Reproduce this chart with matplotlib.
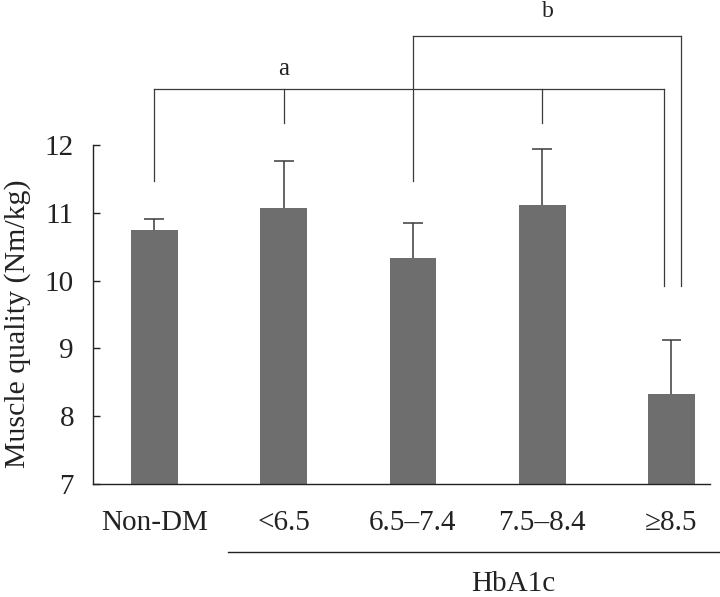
import matplotlib
matplotlib.use("Agg")
import matplotlib.pyplot as plt
import numpy as np

plt.rcParams['font.family'] = ['Liberation Serif', 'DejaVu Serif']

categories = ["Non-DM", "<6.5", "6.5\u20137.4", "7.5\u20138.4", "\u22658.5"]
means = [10.74, 11.07, 10.33, 11.12, 8.33]
upper_err = [0.17, 0.69, 0.52, 0.82, 0.79]
yticks = [7, 8, 9, 10, 11, 12]
group_label = "HbA1c"
ylabel = "Muscle quality (Nm/kg)"

fig = plt.figure(figsize=(7.2, 5.97), dpi=100)
ax = fig.add_axes([0.1296, 0.1896, 0.8565, 0.5675])

x = np.arange(len(categories))
means_a = np.array(means)
tops = means_a + np.array(upper_err)
bar_color = "#6e6e6e"
line_color = "#3a3a3a"
ax.bar(x, means_a, width=0.361, color=bar_color, zorder=2)
# upper-only error bars with a cap at the top only
ax.vlines(x, means_a, tops, color=line_color, lw=1.1, zorder=3)
ax.hlines(tops, x - 0.077, x + 0.077, color=line_color, lw=1.1, zorder=3)

ax.set_xlim(-0.472, 4.298)
ax.set_ylim(7, 12)
ax.set_yticks(yticks)
ax.set_yticklabels([str(t) for t in yticks])
ax.set_xticks(x)
ax.set_xticklabels(categories)
ax.tick_params(axis='y', direction='in', length=4.8, width=1.0, pad=13.9,
               labelsize=21, colors='#222222', labelcolor='#222222')
ax.tick_params(axis='x', length=0, pad=18.5, labelsize=21, labelcolor='#222222')
for s in ['top', 'right']:
    ax.spines[s].set_visible(False)
for s in ['left', 'bottom']:
    ax.spines[s].set_linewidth(1.0)
    ax.spines[s].set_color('#222222')

fig.text(0.025, 0.458, ylabel, rotation=90, ha='center', va='center',
         fontsize=21.5, color='#222222')

# significance brackets
lw = 0.9
def vline(xp, y0, y1):
    ax.plot([xp, xp], [y0, y1], color=line_color, lw=lw, clip_on=False, zorder=4)
def hline(x0, x1, yp):
    ax.plot([x0, x1], [yp, yp], color=line_color, lw=lw, clip_on=False, zorder=4)

ya = 12.83
yb = 13.61
# bracket a: Non-DM, <6.5, 7.5-8.4, >=8.5
hline(x[0], x[4] - 0.056, ya)
vline(x[0], 11.47, ya)
vline(x[1], 12.32, ya)
vline(x[3], 12.32, ya)
vline(x[4] - 0.056, 9.925, ya)
ax.text(x[1], 13.04, "a", ha='center', va='baseline', fontsize=18, color='#222222')
# bracket b: 6.5-7.4 vs >=8.5
hline(x[2], x[4] + 0.071, yb)
vline(x[2], 11.47, yb)
vline(x[4] + 0.071, 9.925, yb)
ax.text((x[2] + x[4] + 0.071) / 2 + 0.01, 13.89, "b", ha='center', va='baseline',
        fontsize=17, color='#222222')

# HbA1c group line
fig.add_artist(plt.Line2D([227.7 / 720, 1.0], [1 - 551.7 / 597, 1 - 551.7 / 597],
                          color='#222222', lw=1.0))
fig.text(513 / 720, 1 - 591 / 597, group_label, ha='center', va='baseline',
         fontsize=21, color='#222222')

fig.savefig("out.png", dpi=100)
